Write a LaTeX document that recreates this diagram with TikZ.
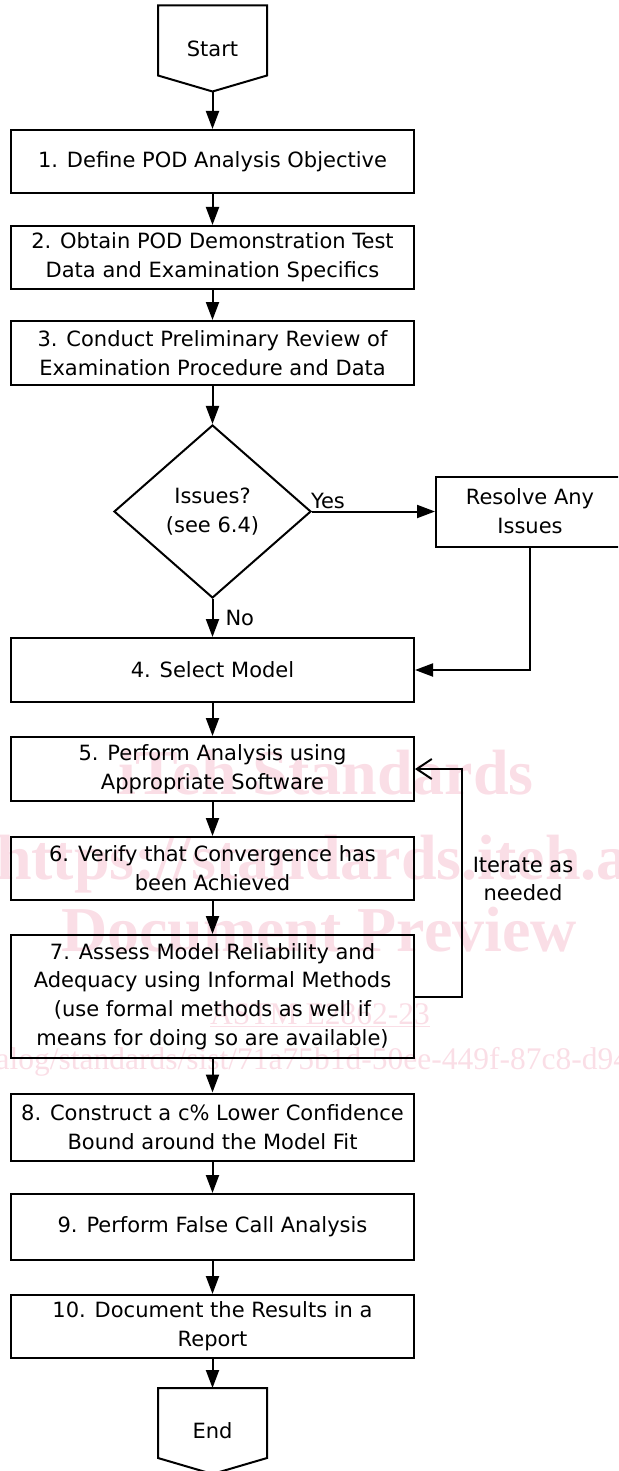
\documentclass[tikz,border=0pt]{standalone}
\usepackage{fontspec}
\setmainfont{DejaVu Sans}
\newfontfamily\wmfont{Liberation Serif}
\usepackage{tikz}
\usetikzlibrary{shapes.geometric, arrows.meta, positioning, calc}
\definecolor{wm_pink}{RGB}{250,222,230}
\tikzset{
  block_font/.style = {font=\fontsize{21}{28.7}\selectfont},
  wm_font/.style = {font=\wmfont\bfseries\fontsize{64}{64}\selectfont},
  wm_small_font/.style = {font=\wmfont\fontsize{31.5}{31.5}\selectfont},
  full_width/.style = {minimum width=403}
}
\tikzset{
  block/.style = {block_font, draw, align=center, inner sep=2, full_width},
  side_block/.style = {block_font, draw, align=center, inner sep=2},
  decision/.style = {block_font, diamond, draw, align=center, inner sep=0,
    minimum width=197, minimum height=173},
  terminal/.style = {block_font, align=center, inner sep=0,
    minimum width=107, minimum height=84},
  label/.style = {block_font, align=center, inner sep=2},
  watermark/.style = {wm_font, text=wm_pink, inner sep=0},
  watermark_small/.style = {wm_small_font, text=wm_pink, inner sep=0},
  link/.style = {-{Triangle[length=18pt, width=13pt]}},
  loop_link/.style = {-{Straight Barb[length=15pt, width=20pt]}}
}

\begin{document}
\begin{tikzpicture}[x=1pt, y=-1pt, line width=2, line join=miter]
        \useasboundingbox (0,0) rectangle (618,1471);
        \clip (0,0) rectangle (618,1471);

        % Watermark
        \node[watermark, anchor=base] (wm_1) at (326,794) {iTeh Standards};
        \node[watermark, anchor=base west] (wm_2) at (-5,879) {https://standards.iteh.ai};
        \node[watermark, anchor=base] (wm_3) at (319,951) {Document Preview};
        \node[watermark_small, anchor=base] (wm_4) at (320,1024) {\underline{ASTM E2862-23}};
        \node[watermark_small, anchor=base east] (wm_5) at (630,1069) {
            https://standards.iteh.ai/catalog/standards/sist/71a75b1d-50ee-449f-87c8-d94};

        % Terminals
        \node[terminal] (start) at (212.5,48.5) {Start};
        \node[terminal] (stop) at (212.5,1431) {End};

        % Steps
        \node[block, minimum height=63] (b_1) at (212.5,161.5) {
            1. Define POD Analysis Objective};
        \node[block, minimum height=63] (b_2) at (212.5,257.5) {
            2. Obtain POD Demonstration Test\\Data and Examination Specifics};
        \node[block, minimum height=64] (b_3) at (212.5,353) {
            3. Conduct Preliminary Review of\\Examination Procedure and Data};
        \node[decision] (dec_1) at (212.5,511.5) {
            Issues?\\(see 6.4)};
        \node[side_block, minimum width=188, minimum height=70] (res_1) at (530,511.5) {
            Resolve Any\\Issues};
        \node[block, minimum height=64] (b_4) at (212.5,670) {
            4. Select Model};
        \node[block, minimum height=64] (b_5) at (212.5,769) {
            5. Perform Analysis using\\Appropriate Software};
        \node[block, minimum height=63] (b_6) at (212.5,868.5) {
            6. Verify that Convergence has\\been Achieved};
        \node[block, minimum height=123] (b_7) at (212.5,996.5) {
            7. Assess Model Reliability and\\Adequacy using Informal Methods\\(use formal methods as well if\\means for doing so are available)};
        \node[block, minimum height=67] (b_8) at (212.5,1127) {
            8. Construct a c\% Lower Confidence\\Bound around the Model Fit};
        \node[block, minimum height=66] (b_9) at (212.5,1227) {
            9. Perform False Call Analysis};
        \node[block, minimum height=63] (b_10) at (212.5,1326.5) {
            10. Document the Results in a\\Report};

        % Labels
        \node[label, anchor=south west, xshift=-4] (yes_lbl) at (dec_1.east) {Yes};
        \coordinate (no_mid) at ($(dec_1.south)!0.5!(b_4.north)$);
        \node[label, right=10pt of no_mid] (no_lbl) {No};
        \node[label] (iter_lbl) at (523,879) {Iterate as\\needed};

        % Terminal outlines
        \draw (start.north west) -- (start.north east) -- ($(start.south east)+(0,16pt)$)
            -- (start.south) -- ($(start.south west)+(0,16pt)$) -- cycle;
        \draw (stop.north west) -- (stop.north east) -- ($(stop.south east)+(0,16pt)$)
            -- (stop.south) -- ($(stop.south west)+(0,16pt)$) -- cycle;

        % Arrows
        \draw[link] (start.south) -- (b_1);
        \draw[link] (b_1) -- (b_2);
        \draw[link] (b_2) -- (b_3);
        \draw[link] (b_3) -- (dec_1);
        \draw[link] (dec_1.east) -- (res_1.west);
        \draw[link] (dec_1.south) -- (b_4);
        \draw[link] (res_1) |- (b_4);
        \draw[link] (b_4) -- (b_5);
        \draw[link] (b_5) -- (b_6);
        \draw[link] (b_6) -- (b_7);
        \draw[loop_link] (b_7.east) -- ++(47,0) |- (b_5.east);
        \draw[link] (b_7) -- (b_8);
        \draw[link] (b_8) -- (b_9);
        \draw[link] (b_9) -- (b_10);
        \draw[link] (b_10) -- (stop.north);
\end{tikzpicture}
\end{document}
